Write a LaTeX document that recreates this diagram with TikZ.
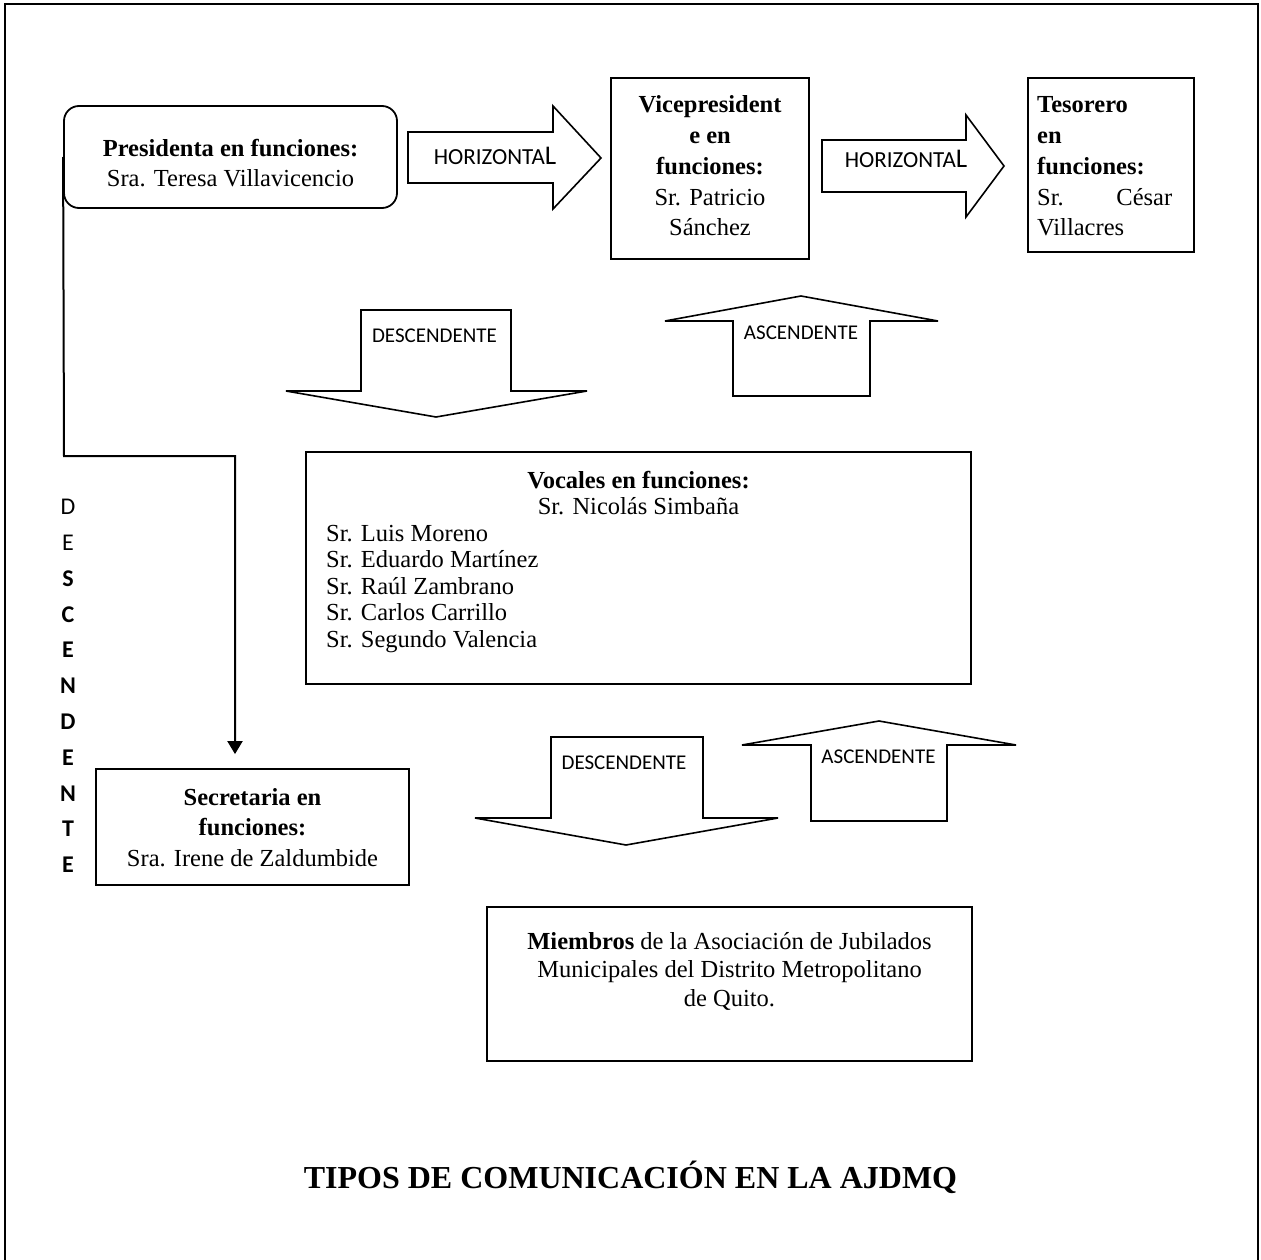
\documentclass[tikz,border=0pt]{standalone}
\usepackage{fontspec}
\setmainfont{Liberation Serif}
\newfontfamily\calibri{Carlito}
\usetikzlibrary{arrows.meta}
\begin{document}
\begin{tikzpicture}[x=1pt,y=-1pt,
  box/.style={draw, line width=1.8pt, inner sep=0pt},
  txt/.style={anchor=base, inner sep=0pt, font=\fontsize{24.5}{30}\selectfont},
  btxt/.style={anchor=base, inner sep=0pt, font=\bfseries\fontsize{24.5}{30}\selectfont},
  ltxt/.style={anchor=base west, inner sep=0pt, font=\fontsize{24.5}{30}\selectfont},
  lbtxt/.style={anchor=base west, inner sep=0pt, font=\bfseries\fontsize{24.5}{30}\selectfont},
  lbl/.style={anchor=base, inner sep=0pt, font=\calibri\fontsize{21}{21}\selectfont},
  hlbl/.style={anchor=base, inner sep=0pt, font=\calibri\fontsize{23}{23}\selectfont},
  vl/.style={inner sep=0pt, font=\calibri\fontsize{24}{24}\selectfont},
  vlb/.style={inner sep=0pt, font=\calibri\bfseries\fontsize{24}{24}\selectfont},
  blockarrow/.style={draw, line width=1.6pt, line join=miter},
  conn/.style={line width=2pt, -{Triangle[length=13pt,width=15pt]}, shorten >=14pt}]
\useasboundingbox (0,0) rectangle (1261,1260);
% outer frame
\draw[line width=2.5pt] (5,1270) -- (5,4) -- (1258,4) -- (1258,1270);

% Presidenta
\node[box, rounded corners=15pt, minimum width=333pt, minimum height=102pt] (pres) at (230.5,157) {};
\node[btxt] (presA) at (230.5,157) {Presidenta en funciones:};
\node[txt] (presB) at (230.5,187) {Sra. Teresa Villavicencio};

% Vicepresidente
\node[box, minimum width=198pt, minimum height=181pt] (vice) at (710,168.5) {};
\node[btxt] (viceA) at (710,113) {Vicepresident};
\node[btxt] (viceB) at (710,143.5) {e en};
\node[btxt] (viceC) at (710,175) {funciones:};
\node[txt] (viceD) at (710,206) {Sr. Patricio};
\node[txt] (viceE) at (710,236) {Sánchez};

% Tesorero
\node[box, minimum width=166pt, minimum height=174pt] (teso) at (1111,165) {};
\node[lbtxt] (tesoA) at (1037,113) {Tesorero};
\node[lbtxt] (tesoB) at (1037,143.5) {en};
\node[lbtxt] (tesoC) at (1037,175) {funciones:};
\node[ltxt] (tesoD) at (1037,206) {\hbox to 135pt{Sr.\hfill César}};
\node[ltxt] (tesoE) at (1037,236) {Villacres};

% Horizontal block arrows
\draw[blockarrow] (408,132) -- (553,132) -- (553,106) -- (601,158) -- (553,209) -- (553,183) -- (408,183) -- cycle;
\node[hlbl] (h1) at (495,165) {HORIZONTA{\fontsize{27}{27}\selectfont L}};
\draw[blockarrow] (822,140) -- (966,140) -- (966,115) -- (1004,166) -- (966,217) -- (966,192) -- (822,192) -- cycle;
\node[hlbl] (h2) at (906,168) {HORIZONTA{\fontsize{27}{27}\selectfont L}};

% Descendente / Ascendente (upper)
\draw[blockarrow] (361,310) -- (511,310) -- (511,391) -- (587,391) -- (436,417) -- (286,391) -- (361,391) -- cycle;
\node[lbl] (d1) at (434.5,342) {DESCENDENTE};
\draw[blockarrow] (801,296) -- (938,321) -- (870,321) -- (870,396) -- (733,396) -- (733,321) -- (665,321) -- cycle;
\node[lbl] (a1) at (801,339) {ASCENDENTE};

% Vocales
\node[box, minimum width=665pt, minimum height=232pt] (voc) at (638.5,568) {};
\node[btxt] (vocA) at (638.5,488) {Vocales en funciones:};
\node[txt] (vocB) at (638.5,514.5) {Sr. Nicolás Simbaña};
\node[ltxt] (vocC) at (326,541) {Sr. Luis Moreno};
\node[ltxt] (vocD) at (326,567.5) {Sr. Eduardo Martínez};
\node[ltxt] (vocE) at (326,594) {Sr. Raúl Zambrano};
\node[ltxt] (vocF) at (326,620.5) {Sr. Carlos Carrillo};
\node[ltxt] (vocG) at (326,647) {Sr. Segundo Valencia};

% Descendente / Ascendente (lower)
\draw[blockarrow] (551,737) -- (703,737) -- (703,818) -- (778,818) -- (626,845) -- (475,818) -- (551,818) -- cycle;
\node[lbl] (d2) at (624,769) {DESCENDENTE};
\draw[blockarrow] (879,721) -- (1016,745) -- (947,745) -- (947,821) -- (811,821) -- (811,745) -- (742,745) -- cycle;
\node[lbl] (a2) at (878.5,763) {ASCENDENTE};

% Secretaria
\node[box, minimum width=313pt, minimum height=116pt] (secr) at (252.5,827) {};
\node[btxt] (secrA) at (252.5,805) {Secretaria en};
\node[btxt] (secrB) at (252.5,835.5) {funciones:};
\node[txt] (secrC) at (252.5,866) {Sra. Irene de Zaldumbide};

% Miembros
\node[box, minimum width=485pt, minimum height=154pt] (miem) at (729.5,984) {};
\node[txt] (miemA) at (729.5,949) {{\bfseries Miembros} de la Asociación de Jubilados};
\node[txt] (miemB) at (729.5,977.5) {Municipales del Distrito Metropolitano};
\node[txt] (miemC) at (729.5,1006) {de Quito.};

% vertical DESCENDENTE
\node[vl] (v1) at (68,507) {D};
\node[vl] (v2) at (68,542.8) {E};
\node[vlb] (v3) at (68,578.6) {S};
\node[vlb] (v4) at (68,614.4) {C};
\node[vlb] (v5) at (68,650.2) {E};
\node[vlb] (v6) at (68,686) {N};
\node[vlb] (v7) at (68,721.8) {D};
\node[vlb] (v8) at (68,757.6) {E};
\node[vlb] (v9) at (68,793.4) {N};
\node[vlb] (v10) at (68,829.2) {T};
\node[vlb] (v11) at (68,865) {E};

% connector
\coordinate (c1) at (64,456);
\coordinate (c2) at (235,456);
\draw[conn] (pres.west) -- (c1) -- (c2) -- (c2 |- secr.north);

% title
\node[anchor=base, inner sep=0pt, font=\bfseries\fontsize{32}{32}\selectfont] (title) at (630.5,1188) {TIPOS DE COMUNICACIÓN EN LA AJDMQ};
\end{tikzpicture}
\end{document}
